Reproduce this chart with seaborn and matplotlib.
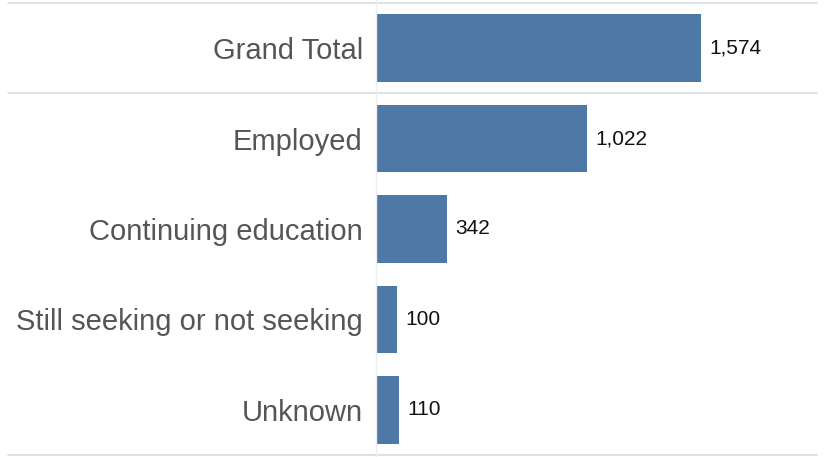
import matplotlib
matplotlib.use("Agg")
import matplotlib.pyplot as plt
import seaborn as sns
import pandas as pd

# Outcome categories and counts
categories = ["Grand Total", "Employed", "Continuing education",
              "Still seeking or not seeking", "Unknown"]
counts = [1574, 1022, 342, 100, 110]

BAR_COLOR = "#4e79a7"
LINE_COLOR = "#dcdcdc"

sns.set_style("white")
plt.rcParams["font.family"] = ["Liberation Sans", "DejaVu Sans"]

df = pd.DataFrame({"category": categories, "count": counts})

W, H = 825, 457
fig = plt.figure(figsize=(W / 100, H / 100), dpi=100)
# axes: bars start at x=376px, rows span y=3..455px
ax = fig.add_axes([376 / W, 2 / H, 441 / W, 452 / H])

sns.barplot(data=df, x="count", y="category", orient="h",
            color=BAR_COLOR, width=0.75, saturation=1, linewidth=0, ax=ax)

ax.set_xlim(0, 441 / 0.2065)
ax.set_ylim(len(categories) - 0.5, -0.5)
ax.set_xlabel("")
ax.set_ylabel("")
ax.set_xticks([])
ax.tick_params(axis="y", length=0, pad=9.5, labelsize=21, labelcolor="#555555")
for s in ax.spines.values():
    s.set_visible(False)

for cont in ax.containers:
    ax.bar_label(cont, labels=[f"{int(v):,}" for v in cont.datavalues],
                 padding=6, fontsize=15, color="#111111")

# row separators: top, below grand total, bottom
xmin = (8 - 376) / 441
for yv in (-0.5, 0.5, len(categories) - 0.5):
    ax.axhline(yv, xmin=xmin, xmax=1, color=LINE_COLOR, lw=1.2,
               clip_on=False, zorder=0)

# vertical divider between labels and bars
fig.add_artist(plt.Line2D([375.5 / W, 375.5 / W], [0, 1],
                          transform=fig.transFigure, color="#eeeeee", lw=1))

fig.savefig("out.png", dpi=100)
